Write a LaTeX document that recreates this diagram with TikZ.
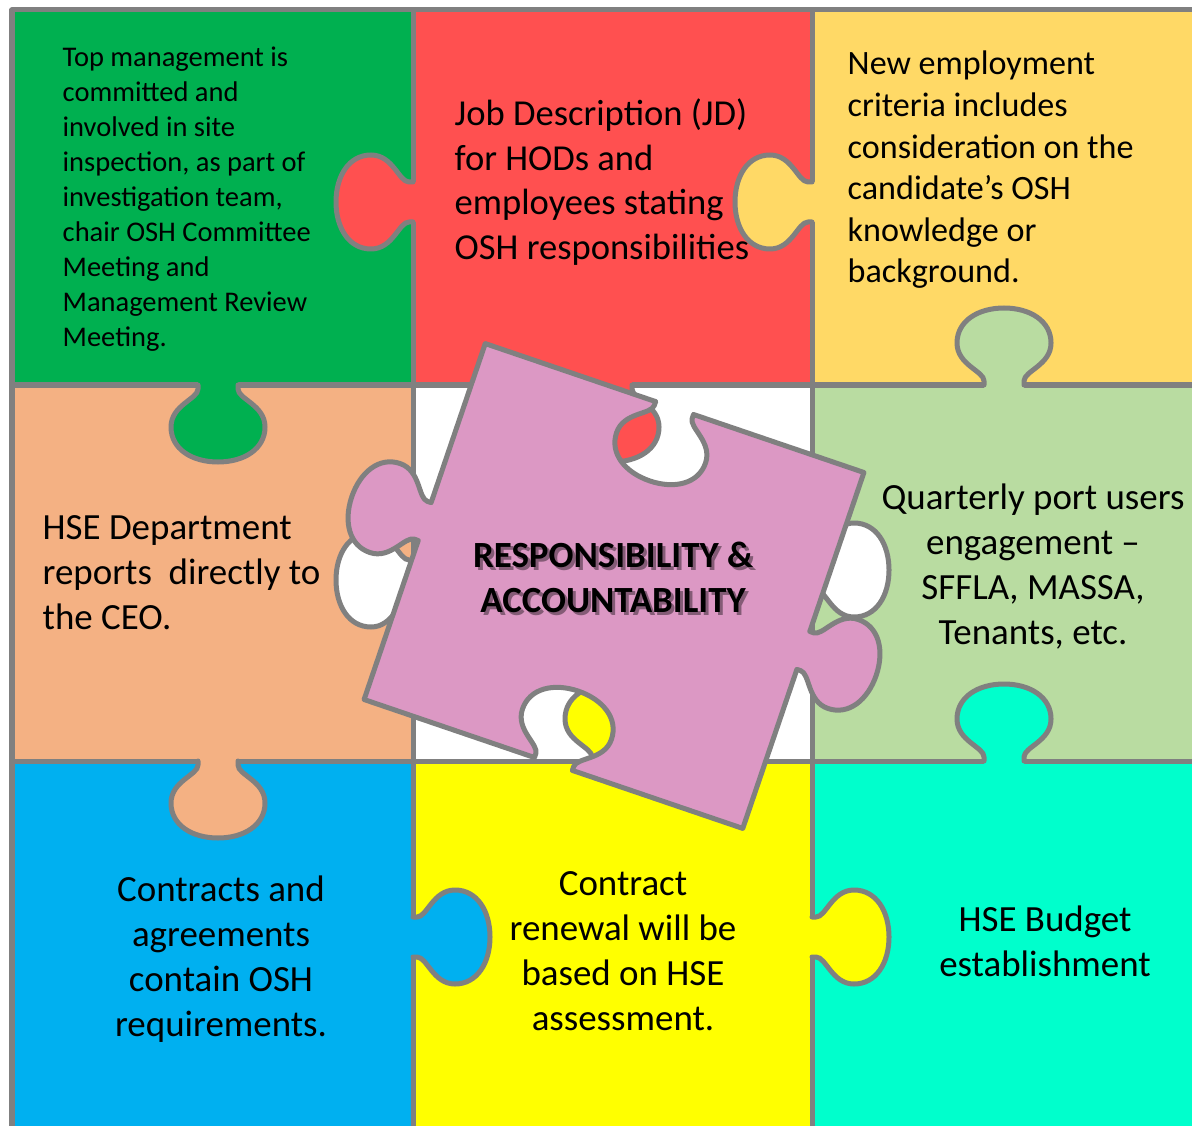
\documentclass[tikz,border=0pt]{standalone}
\usepackage{fontspec}
\setmainfont{Carlito}

\definecolor{edgegray}{HTML}{808080}
\definecolor{mgmtgreen}{HTML}{00B050}
\definecolor{jdred}{HTML}{FF5050}
\definecolor{hiregold}{HTML}{FFD966}
\definecolor{deptpeach}{HTML}{F4B183}
\definecolor{usersgreen}{HTML}{B9DCA1}
\definecolor{contractblue}{HTML}{00B0F0}
\definecolor{renewyellow}{HTML}{FFFF00}
\definecolor{budgetaqua}{HTML}{00FFCC}
\definecolor{corepink}{HTML}{DC98C4}

% one tab of a puzzle piece: base point, turn, fill colour
% (drawn pointing down when the turn is 0)
\newcommand{\puzzleknob}[3]{%
  \begin{scope}[shift={#1},rotate=#2]
    \fill[#3] (-20,-4) -- (-20,4) .. controls (-20,14) and (-47,20) .. (-47,42)
      .. controls (-47,64) and (-26,77) .. (0,77)
      .. controls (26,77) and (47,64) .. (47,42)
      .. controls (47,20) and (20,14) .. (20,4) -- (20,-4) -- cycle;
    \draw[tabline] (-20,0) -- (-20,4) .. controls (-20,14) and (-47,20) .. (-47,42)
      .. controls (-47,64) and (-26,77) .. (0,77)
      .. controls (26,77) and (47,64) .. (47,42)
      .. controls (47,20) and (20,14) .. (20,4) -- (20,0);
  \end{scope}}

\begin{document}
\begin{tikzpicture}
[x=0.01cm,y=-0.01cm,
  cellbox/.style={draw=edgegray,line width=0.05cm,line join=round},%
  tabline/.style={draw=edgegray,line width=0.05cm,line cap=round,line join=round},%
  piecetext/.style={inner sep=0pt,font=\fontsize{10.5}{12.8}\selectfont}]
\useasboundingbox (0,0) rectangle (1192,1125);
\clip (0,0) rectangle (1192,1125);
%%% the nine cells
% top row
\filldraw[cellbox,fill=mgmtgreen] (12,10) rectangle (413,385);
\filldraw[cellbox,fill=jdred] (413,10) rectangle (812,385);
\filldraw[cellbox,fill=hiregold] (812,10) rectangle (1215,385);
% middle row
\filldraw[cellbox,fill=deptpeach] (12,385) rectangle (413,761);
\filldraw[cellbox,fill=white] (413,385) rectangle (812,761);
\filldraw[cellbox,fill=usersgreen] (812,385) rectangle (1215,761);
% bottom row
\filldraw[cellbox,fill=contractblue] (12,761) rectangle (413,1150);
\filldraw[cellbox,fill=renewyellow] (413,761) rectangle (812,1150);
\filldraw[cellbox,fill=budgetaqua] (812,761) rectangle (1215,1150);
%
%%% tabs between the cells
\puzzleknob{(413,202)}{-90}{jdred}
\puzzleknob{(812,202)}{-90}{hiregold}
\puzzleknob{(218,385)}{0}{mgmtgreen}
\puzzleknob{(1004,385)}{180}{usersgreen}
\puzzleknob{(218,761)}{0}{deptpeach}
\puzzleknob{(1004,761)}{180}{budgetaqua}
\puzzleknob{(413,937)}{90}{contractblue}
\puzzleknob{(812,937)}{90}{renewyellow}
% tabs round the empty middle cell
\puzzleknob{(612,385)}{0}{jdred}
\puzzleknob{(612,761)}{180}{renewyellow}
\puzzleknob{(413,580)}{-90}{white}
\puzzleknob{(812,570)}{90}{white}
%
%%% loose middle piece
\begin{scope}[shift={(614,586)},rotate=-18.8]
\filldraw[cellbox,fill=corepink] (-200,-188)
  % top edge, blank
  -- (-20,-188) -- (-20,-184) .. controls (-20,-174) and (-47,-168) .. (-47,-146)
  .. controls (-47,-124) and (-26,-111) .. (0,-111)
  .. controls (26,-111) and (47,-124) .. (47,-146)
  .. controls (47,-168) and (20,-174) .. (20,-184) -- (20,-188) -- (200,-188)
  % right edge, tab
  -- (200,-20) -- (204,-20) .. controls (214,-20) and (220,-47) .. (242,-47)
  .. controls (264,-47) and (277,-26) .. (277,0)
  .. controls (277,26) and (264,47) .. (242,47)
  .. controls (220,47) and (214,20) .. (204,20) -- (200,20) -- (200,188)
  % bottom edge, blank
  -- (20,188) -- (20,184) .. controls (20,174) and (47,168) .. (47,146)
  .. controls (47,124) and (26,111) .. (0,111)
  .. controls (-26,111) and (-47,124) .. (-47,146)
  .. controls (-47,168) and (-20,174) .. (-20,184) -- (-20,188) -- (-200,188)
  % left edge, tab
  -- (-200,20) -- (-204,20) .. controls (-214,20) and (-220,47) .. (-242,47)
  .. controls (-264,47) and (-277,26) .. (-277,0)
  .. controls (-277,-26) and (-264,-47) .. (-242,-47)
  .. controls (-220,-47) and (-214,-20) .. (-204,-20) -- (-200,-20) -- cycle;
\end{scope}
%
%%% texts
\node (mgmt) at (62,199) [piecetext,anchor=west,align=left,font=\fontsize{8.1}{9.96}\selectfont]
  {Top management is\\committed and\\involved in site\\inspection, as part of\\investigation team,\\chair OSH Committee\\Meeting and\\Management Review\\Meeting.};
\node (jd) at (454,182) [piecetext,anchor=west,align=left,font=\fontsize{10.4}{12.66}\selectfont]
  {Job Description (JD)\\for HODs and\\employees stating\\OSH responsibilities};
\node (hiring) at (847,170) [piecetext,anchor=west,align=left,font=\fontsize{9.7}{11.84}\selectfont]
  {New employment\\criteria includes\\consideration on the\\candidate’s OSH\\knowledge or\\background.};
\node (hsedept) at (42,573) [piecetext,anchor=west,align=left]
  {HSE Department\\reports\ \ directly to\\the CEO.};
\node (portusers) at (1033,567) [piecetext,align=center]
  {Quarterly port users\\engagement –\\SFFLA, MASSA,\\Tenants, etc.};
\node (contracts) at (221,959) [piecetext,align=center]
  {Contracts and\\agreements\\contain OSH\\requirements.};
\node (renewal) at (623,951) [piecetext,align=center]
  {Contract\\renewal will be\\based on HSE\\assessment.};
\node (budget) at (1045,941) [piecetext,align=center]
  {HSE Budget\\establishment};
% title with its drop shadow
\node (coreshadow) at (616,580) [piecetext,align=center,text=black!40!corepink,font=\fontsize{10.5}{12.8}\selectfont\bfseries]
  {RESPONSIBILITY \&\\ACCOUNTABILITY};
\node (core) at (613,577) [piecetext,align=center,font=\fontsize{10.5}{12.8}\selectfont\bfseries]
  {RESPONSIBILITY \&\\ACCOUNTABILITY};
\end{tikzpicture}
\end{document}
